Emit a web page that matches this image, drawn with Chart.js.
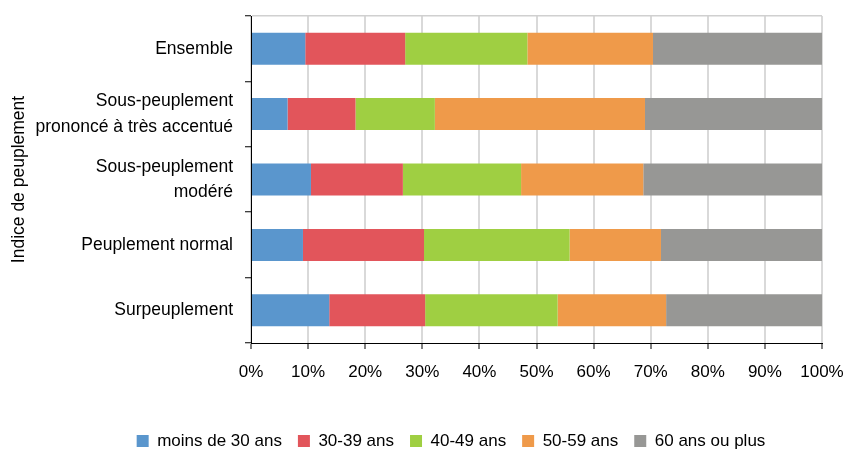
<!DOCTYPE html>
<html lang="fr">
<head>
<meta charset="utf-8">
<title>Indice de peuplement par âge</title>
<script src="https://cdn.jsdelivr.net/npm/chart.js@4.4.1/dist/chart.umd.min.js"></script>
<style>
  html, body { margin: 0; padding: 0; background: #ffffff; }
  #wrap { width: 846px; height: 451px; position: relative; }
</style>
</head>
<body>
<div id="wrap"><canvas id="chart" width="846" height="451"></canvas></div>
<script>
// Categories (top to bottom), multi-line labels as arrays
const categories = [
  "Ensemble",
  ["Sous-peuplement", "prononcé à très accentué"],
  ["Sous-peuplement", "modéré"],
  "Peuplement normal",
  "Surpeuplement"
];

// Shares (%) of each age group per category
const moins30   = [9.5, 6.4, 10.5, 9.1, 13.7];
const ans30_39  = [17.5, 11.9, 16.1, 21.2, 16.8];
const ans40_49  = [21.4, 13.9, 20.7, 25.5, 23.2];
const ans50_59  = [22.0, 36.8, 21.4, 16.0, 19.0];
const ans60plus = [29.6, 31.0, 31.3, 28.2, 27.3];

const seriesNames = ["moins de 30 ans", "30-39 ans", "40-49 ans", "50-59 ans", "60 ans ou plus"];
const seriesColors = ["#5a96cd", "#e2555b", "#9fcf42", "#ef9a4a", "#979795"];
const seriesValues = [moins30, ans30_39, ans40_49, ans50_59, ans60plus];

const tickValues = [0, 10, 20, 30, 40, 50, 60, 70, 80, 90, 100];
const axisTitle = "Indice de peuplement";

const FONT = "'Liberation Sans', Arial, sans-serif";

// Places the legend row under the plot
const legendPlacer = {
  id: "legendPlacer",
  afterLayout(chart) {
    const lg = chart.legend;
    if (!lg) return;
    const h = lg.bottom - lg.top;
    lg.left = 80; lg.right = 822;
    lg.top = 416.5; lg.bottom = lg.top + h;
  }
};

new Chart(document.getElementById("chart"), {
  type: "bar",
  data: {
    labels: categories,
    datasets: seriesNames.map((name, i) => ({
      label: name,
      data: seriesValues[i],
      backgroundColor: seriesColors[i],
      borderWidth: 0,
      barPercentage: 0.49,
      categoryPercentage: 1
    }))
  },
  plugins: [legendPlacer],
  options: {
    indexAxis: "y",
    responsive: false,
    animation: false,
    layout: { padding: { top: 16, right: 24, left: 0, bottom: 0 } },
    plugins: {
      tooltip: { enabled: false },
      legend: {
        position: "bottom",
        labels: {
          boxWidth: 12,
          boxHeight: 12,
          padding: 16,
          color: "#000",
          font: { family: FONT, size: 17 }
        }
      }
    },
    scales: {
      x: {
        stacked: true,
        min: 0,
        max: 100,
        afterBuildTicks(scale) { scale.ticks = tickValues.map(v => ({ value: v })); },
        afterFit(scale) {
          scale.height = 65;
          scale.paddingLeft = 0;
          scale.paddingRight = 0;
        },
        border: { color: "#000", width: 1 },
        grid: {
          color: "#d9d9d9",
          lineWidth: 2,
          tickColor: "#000",
          tickWidth: 1,
          tickLength: 6
        },
        ticks: {
          padding: 13,
          color: "#000",
          font: { family: FONT, size: 17 },
          callback: v => v + "%"
        }
      },
      y: {
        stacked: true,
        afterFit(scale) {
          scale.width = 251;
          scale.paddingTop = 0;
          scale.paddingBottom = 0;
        },
        border: { color: "#000", width: 1 },
        grid: {
          offset: true,
          drawOnChartArea: true,
          color: ctx => (ctx.index === 0 ? "#d0d0d0" : "rgba(0,0,0,0)"),
          lineWidth: 1.5,
          tickColor: "#000",
          tickWidth: 1,
          tickLength: 6
        },
        ticks: {
          padding: 12,
          color: "#000",
          font: { family: FONT, size: 17.5, lineHeight: 1.45 }
        },
        title: {
          display: true,
          text: axisTitle,
          color: "#000",
          padding: { top: 9, bottom: 0 },
          font: { family: FONT, size: 17.5 }
        }
      }
    }
  }
});
</script>
</body>
</html>
